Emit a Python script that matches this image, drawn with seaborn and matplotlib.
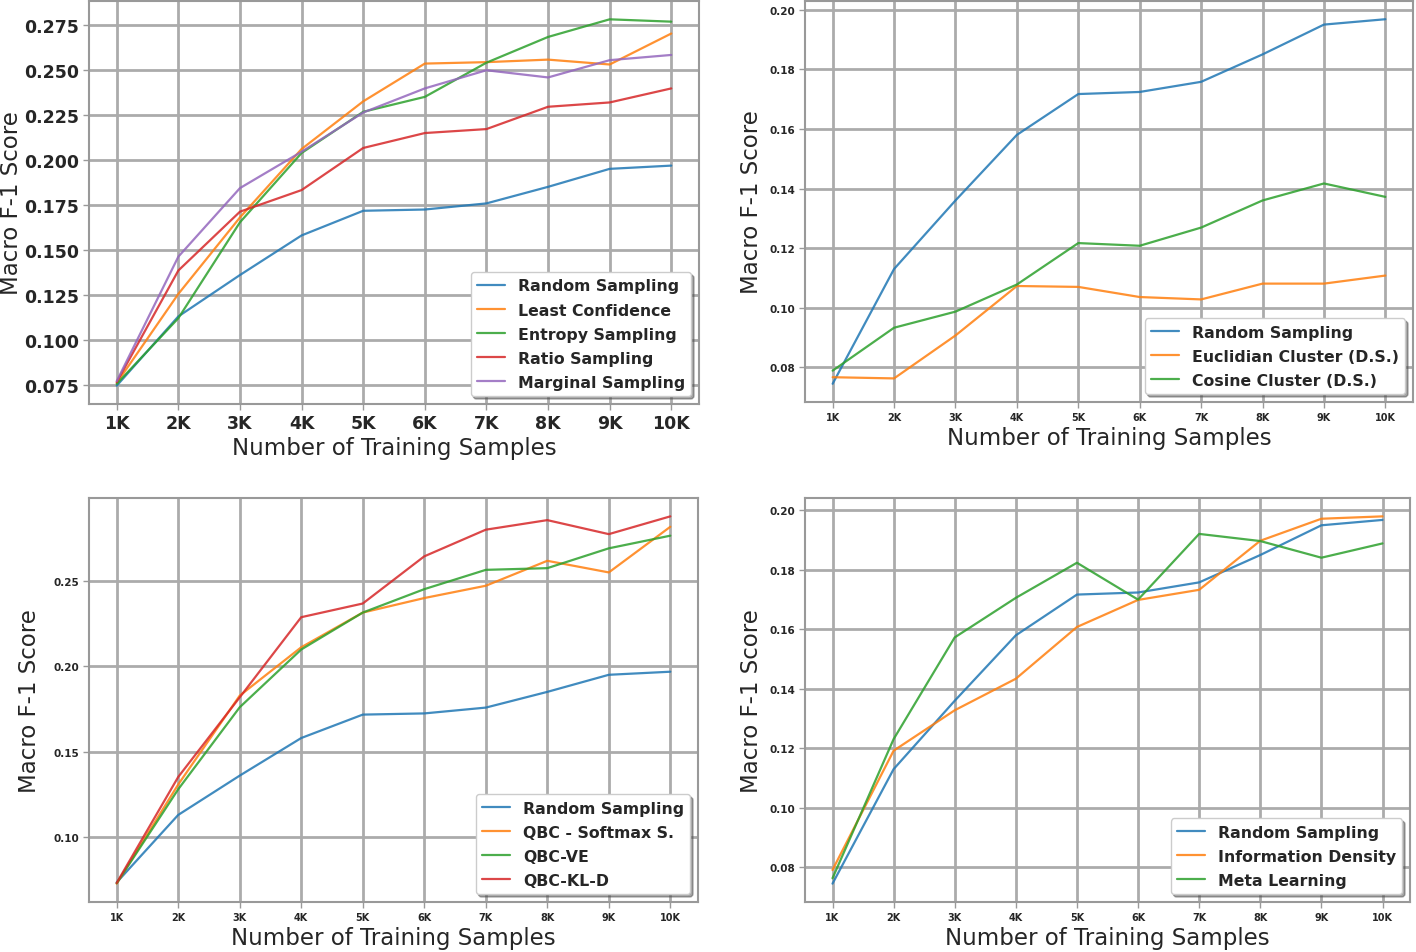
import matplotlib
matplotlib.use("Agg")
import matplotlib.pyplot as plt
import seaborn as sns
import pandas as pd

sns.set_style("whitegrid")
plt.rcParams['font.family'] = ['DejaVu Sans']

x_labels = ["1K", "2K", "3K", "4K", "5K", "6K", "7K", "8K", "9K", "10K"]
x_vals = [1, 2, 3, 4, 5, 6, 7, 8, 9, 10]

random_sampling = [0.0745, 0.113, 0.136, 0.158, 0.1717, 0.1724, 0.1758, 0.185, 0.195, 0.1968]

# Panel 1
least_confidence = [0.076, 0.1255, 0.168, 0.206, 0.2325, 0.2535, 0.2543, 0.2557, 0.253, 0.2702]
entropy_sampling = [0.0755, 0.112, 0.1653, 0.2038, 0.2267, 0.235, 0.254, 0.2683, 0.2781, 0.2768]
ratio_sampling = [0.0765, 0.1385, 0.1712, 0.1832, 0.2066, 0.2149, 0.2171, 0.2295, 0.2319, 0.2397]
marginal_sampling = [0.077, 0.1462, 0.1843, 0.2045, 0.2263, 0.2397, 0.2498, 0.2458, 0.2554, 0.2583]

# Panel 2
euclidian_cluster = [0.0767, 0.0763, 0.0907, 0.1073, 0.107, 0.1036, 0.1028, 0.1081, 0.1081, 0.1108]
cosine_cluster = [0.0789, 0.0933, 0.0987, 0.1078, 0.1217, 0.1208, 0.1269, 0.136, 0.1417, 0.1372]

# Panel 3
random_sampling_p3 = [0.0735, 0.113, 0.136, 0.158, 0.1717, 0.1724, 0.1758, 0.185, 0.195, 0.1968]
qbc_softmax = [0.0728, 0.1308, 0.1828, 0.2111, 0.2314, 0.2399, 0.2471, 0.2617, 0.2549, 0.2816]
qbc_ve = [0.073, 0.128, 0.176, 0.2098, 0.2314, 0.2451, 0.2564, 0.2574, 0.269, 0.2764]
qbc_kld = [0.0732, 0.1352, 0.1818, 0.2287, 0.2367, 0.2643, 0.2799, 0.2855, 0.2773, 0.2877]

# Panel 4
information_density = [0.0791, 0.1192, 0.1328, 0.1434, 0.1608, 0.1699, 0.1733, 0.1898, 0.1972, 0.198]
meta_learning = [0.0763, 0.1231, 0.1573, 0.1706, 0.1824, 0.170, 0.1921, 0.1897, 0.1841, 0.1889]

panels = [
    {"series": [("Random Sampling", random_sampling), ("Least Confidence", least_confidence),
                ("Entropy Sampling", entropy_sampling), ("Ratio Sampling", ratio_sampling),
                ("Marginal Sampling", marginal_sampling)],
     "rect": [89, 2, 699, 405], "yticks": [0.075, 0.100, 0.125, 0.150, 0.175, 0.200, 0.225, 0.250, 0.275],
     "fmt": "{:.3f}", "tick_fs": 12.5, "xtick_fs": 12.5, "leg_fs": 11.3, "ylab_x": -0.108},
    {"series": [("Random Sampling", random_sampling), ("Euclidian Cluster (D.S.)", euclidian_cluster),
                ("Cosine Cluster (D.S.)", cosine_cluster)],
     "rect": [805, 2, 1413, 403], "yticks": [0.08, 0.10, 0.12, 0.14, 0.16, 0.18, 0.20],
     "fmt": "{:.2f}", "tick_fs": 7.5, "xtick_fs": 7, "leg_fs": 11.3, "ylab_x": -0.069},
    {"series": [("Random Sampling", random_sampling_p3), ("QBC - Softmax S.", qbc_softmax),
                ("QBC-VE", qbc_ve), ("QBC-KL-D", qbc_kld)],
     "rect": [89, 499, 698, 903], "yticks": [0.10, 0.15, 0.20, 0.25],
     "fmt": "{:.2f}", "tick_fs": 7.5, "xtick_fs": 7, "leg_fs": 11.3, "ylab_x": -0.079},
    {"series": [("Random Sampling", random_sampling), ("Information Density", information_density),
                ("Meta Learning", meta_learning)],
     "rect": [805, 499, 1410, 903], "yticks": [0.08, 0.10, 0.12, 0.14, 0.16, 0.18, 0.20],
     "fmt": "{:.2f}", "tick_fs": 7.5, "xtick_fs": 7, "leg_fs": 11.3, "ylab_x": -0.069},
]

W, H = 1416, 953
fig = plt.figure(figsize=(W / 100, H / 100), dpi=100)
palette = sns.color_palette("tab10")
grid_col = "#ababab"

for p in panels:
    l, t, r, b = p["rect"]
    ax = fig.add_axes([l / W, 1 - b / H, (r - l) / W, (b - t) / H])
    rows = []
    for name, vals in p["series"]:
        for xv, yv in zip(x_vals, vals):
            rows.append({"x": xv, "y": yv, "Method": name})
    df = pd.DataFrame(rows)
    names = [s[0] for s in p["series"]]
    sns.lineplot(data=df, x="x", y="y", hue="Method", hue_order=names,
                 palette=palette[:len(names)], linewidth=1.6, alpha=0.85, ax=ax, legend=True)
    ax.set_xticks(x_vals)
    ax.set_xticklabels(x_labels, fontsize=p["xtick_fs"], fontweight="bold")
    ax.set_yticks(p["yticks"])
    ax.set_yticklabels([p["fmt"].format(v) for v in p["yticks"]], fontsize=p["tick_fs"], fontweight="bold")
    ax.margins(x=0.05, y=0.05)
    ax.grid(True, color=grid_col, linewidth=2.0)
    for s in ax.spines.values():
        s.set_color("#999999")
        s.set_linewidth(1.5)
    ax.tick_params(axis="both", which="major", length=4, width=1, color="#999999", pad=3, bottom=True, left=True)
    ax.set_xlabel("Number of Training Samples", fontsize=16.5, labelpad=3)
    ax.set_ylabel("Macro F-1 Score", fontsize=16.5)
    ax.yaxis.set_label_coords(p["ylab_x"], 0.5)
    leg = ax.legend(loc="lower right", prop={"weight": "bold", "size": p["leg_fs"]},
                    frameon=True, shadow=True, fancybox=True, handlelength=1.8,
                    borderpad=0.4, labelspacing=0.58, framealpha=1)
    leg.get_frame().set_edgecolor("#cccccc")
    for lh in leg.get_lines():
        lh.set_alpha(0.85)

fig.savefig("out.png", dpi=100)
